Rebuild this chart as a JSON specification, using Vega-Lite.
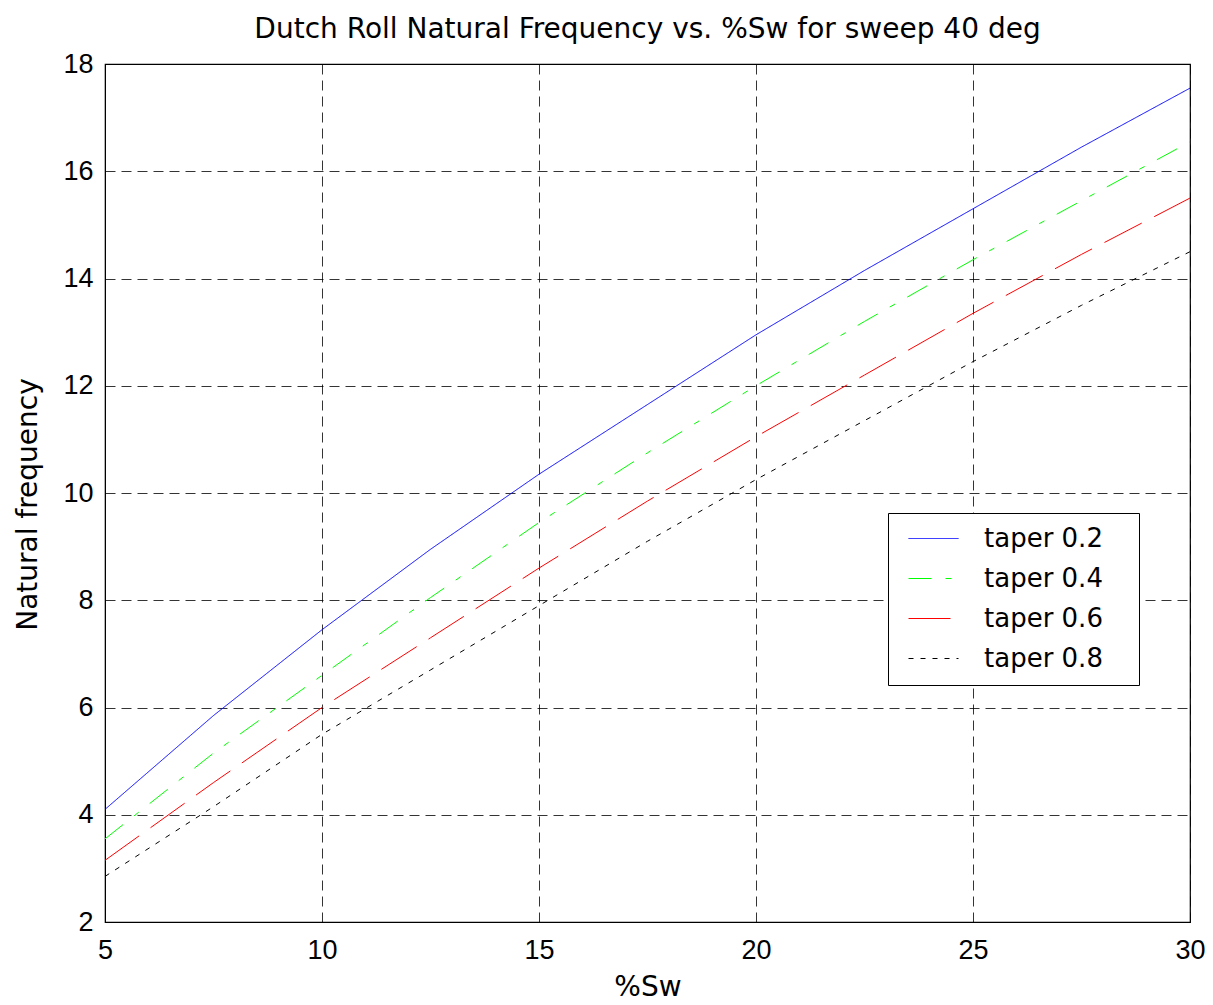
{
  "$schema": "https://vega.github.io/schema/vega-lite/v6.json",
  "width": 1085,
  "height": 858,
  "autosize": {"type": "none"},
  "padding": {"left": 105, "top": 64, "right": 23, "bottom": 83},
  "background": "white",
  "title": {
    "text": "Dutch Roll Natural Frequency vs. %Sw for sweep 40 deg",
    "font": "DejaVu Sans",
    "fontSize": 28,
    "fontWeight": "normal",
    "color": "black",
    "offset": 6
  },
  "config": {
    "font": "Liberation Sans",
    "view": {"stroke": "black", "strokeWidth": 1.2},
    "axis": {
      "domainColor": "black",
      "gridColor": "black",
      "gridOpacity": 1,
      "gridDash": [10, 6],
      "gridWidth": 0.8,
      "ticks": false,
      "labelFont": "Liberation Sans",
      "labelFontSize": 27,
      "labelColor": "black",
      "titleFont": "DejaVu Sans",
      "titleFontSize": 28,
      "titleFontWeight": "normal",
      "titleColor": "black"
    }
  },
  "data": {
    "values": [
      {"sw": 5, "f": 4.1, "taper": "taper 0.2"},
      {"sw": 7.5, "f": 5.85, "taper": "taper 0.2"},
      {"sw": 10, "f": 7.45, "taper": "taper 0.2"},
      {"sw": 12.5, "f": 8.95, "taper": "taper 0.2"},
      {"sw": 15, "f": 10.35, "taper": "taper 0.2"},
      {"sw": 17.5, "f": 11.65, "taper": "taper 0.2"},
      {"sw": 20, "f": 12.95, "taper": "taper 0.2"},
      {"sw": 22.5, "f": 14.15, "taper": "taper 0.2"},
      {"sw": 25, "f": 15.3, "taper": "taper 0.2"},
      {"sw": 27.5, "f": 16.45, "taper": "taper 0.2"},
      {"sw": 30, "f": 17.55, "taper": "taper 0.2"},
      {"sw": 5, "f": 3.55, "taper": "taper 0.4"},
      {"sw": 7.5, "f": 5.15, "taper": "taper 0.4"},
      {"sw": 10, "f": 6.6, "taper": "taper 0.4"},
      {"sw": 12.5, "f": 8.05, "taper": "taper 0.4"},
      {"sw": 15, "f": 9.45, "taper": "taper 0.4"},
      {"sw": 17.5, "f": 10.75, "taper": "taper 0.4"},
      {"sw": 20, "f": 12.0, "taper": "taper 0.4"},
      {"sw": 22.5, "f": 13.2, "taper": "taper 0.4"},
      {"sw": 25, "f": 14.35, "taper": "taper 0.4"},
      {"sw": 27.5, "f": 15.45, "taper": "taper 0.4"},
      {"sw": 30, "f": 16.55, "taper": "taper 0.4"},
      {"sw": 5, "f": 3.15, "taper": "taper 0.6"},
      {"sw": 7.5, "f": 4.6, "taper": "taper 0.6"},
      {"sw": 10, "f": 6.0, "taper": "taper 0.6"},
      {"sw": 12.5, "f": 7.3, "taper": "taper 0.6"},
      {"sw": 15, "f": 8.6, "taper": "taper 0.6"},
      {"sw": 17.5, "f": 9.85, "taper": "taper 0.6"},
      {"sw": 20, "f": 11.05, "taper": "taper 0.6"},
      {"sw": 22.5, "f": 12.2, "taper": "taper 0.6"},
      {"sw": 25, "f": 13.35, "taper": "taper 0.6"},
      {"sw": 27.5, "f": 14.45, "taper": "taper 0.6"},
      {"sw": 30, "f": 15.5, "taper": "taper 0.6"},
      {"sw": 5, "f": 2.85, "taper": "taper 0.8"},
      {"sw": 7.5, "f": 4.15, "taper": "taper 0.8"},
      {"sw": 10, "f": 5.5, "taper": "taper 0.8"},
      {"sw": 12.5, "f": 6.7, "taper": "taper 0.8"},
      {"sw": 15, "f": 7.9, "taper": "taper 0.8"},
      {"sw": 17.5, "f": 9.1, "taper": "taper 0.8"},
      {"sw": 20, "f": 10.25, "taper": "taper 0.8"},
      {"sw": 22.5, "f": 11.35, "taper": "taper 0.8"},
      {"sw": 25, "f": 12.45, "taper": "taper 0.8"},
      {"sw": 27.5, "f": 13.5, "taper": "taper 0.8"},
      {"sw": 30, "f": 14.5, "taper": "taper 0.8"}
    ]
  },
  "mark": {"type": "line", "strokeWidth": 1, "clip": true},
  "encoding": {
    "x": {
      "field": "sw",
      "type": "quantitative",
      "title": "%Sw",
      "scale": {"domain": [5, 30], "nice": false, "zero": false},
      "axis": {"values": [5, 10, 15, 20, 25, 30], "labelPadding": 15, "titlePadding": 10, "labelFlush": false}
    },
    "y": {
      "field": "f",
      "type": "quantitative",
      "title": "Natural frequency",
      "scale": {"domain": [2, 18], "nice": false, "zero": false},
      "axis": {"values": [2, 4, 6, 8, 10, 12, 14, 16, 18], "labelPadding": 12, "titlePadding": 20, "titleY": 440, "labelFlush": false}
    },
    "color": {
      "field": "taper",
      "type": "nominal",
      "scale": {
        "domain": ["taper 0.2", "taper 0.4", "taper 0.6", "taper 0.8"],
        "range": ["#0000ff", "#00ff00", "#ff0000", "#000000"]
      },
      "legend": {
        "title": "\u00a0",
        "titleOrient": "right",
        "titlePadding": 36,
        "titleFont": "Liberation Sans",
        "titleFontSize": 94,
        "titleBaseline": "top",
        "orient": "none",
        "legendX": 783,
        "legendY": 449,
        "symbolType": "stroke",
        "symbolSize": 2500,
        "symbolStrokeWidth": 1,
        "symbolOffset": 20,
        "labelFontSize": 26,
        "labelFont": "DejaVu Sans",
        "labelColor": "black",
        "labelOffset": 25,
        "rowPadding": 1,
        "padding": 0,
        "strokeColor": "black",
        "fillColor": "white"
      }
    },
    "strokeDash": {
      "field": "taper",
      "type": "nominal",
      "scale": {
        "domain": ["taper 0.2", "taper 0.4", "taper 0.6", "taper 0.8"],
        "range": [[1, 0], [23, 14, 6, 14], [42, 14], [5, 7]]
      },
      "legend": null
    }
  }
}
